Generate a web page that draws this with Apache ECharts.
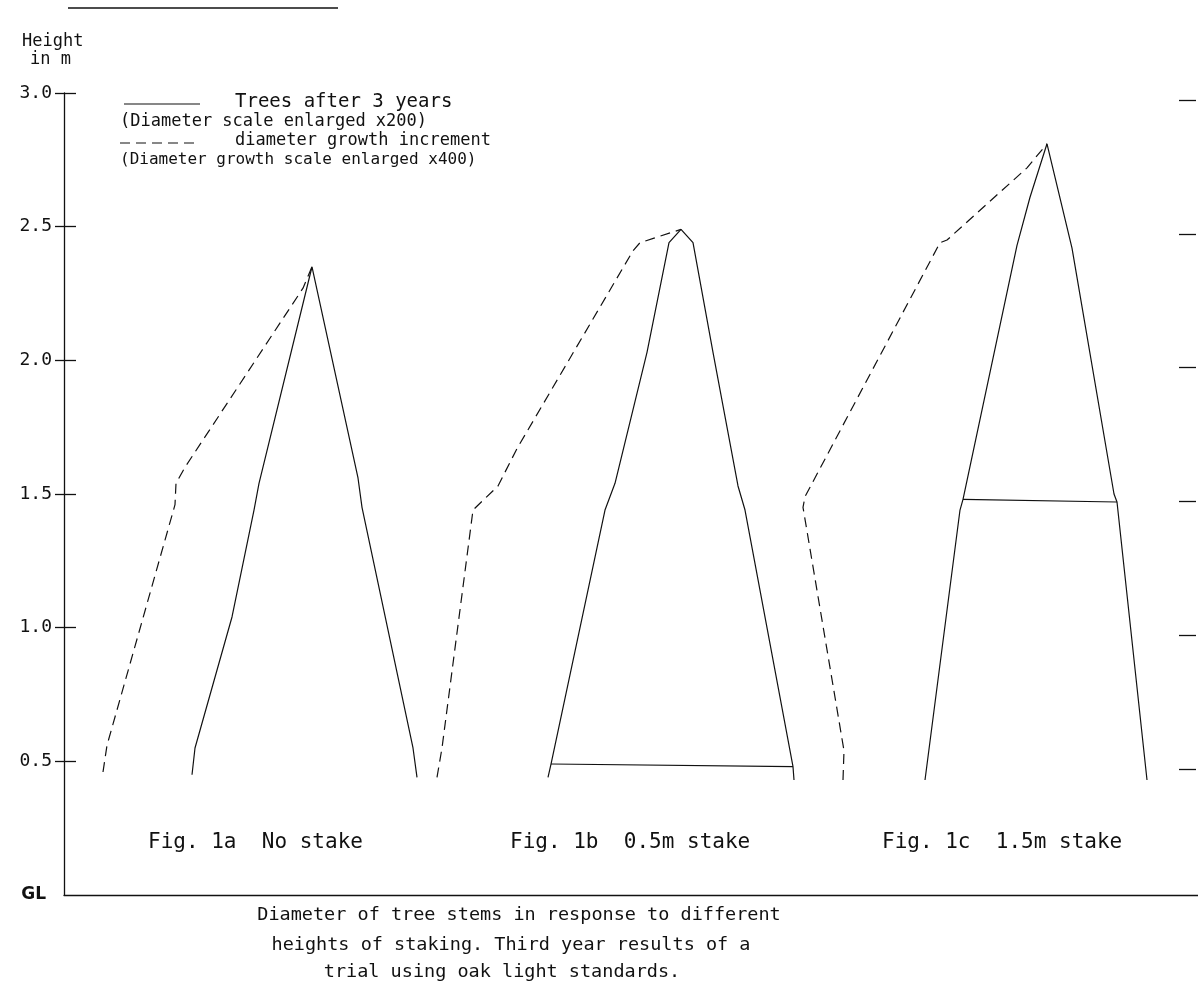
<!DOCTYPE html>
<html>
<head>
<meta charset="utf-8">
<title>Diameter of tree stems - staking trial</title>
<script src="https://cdn.jsdelivr.net/npm/echarts@6/dist/echarts.min.js"></script>
<style>
html, body { margin: 0; padding: 0; background: #fff; }
#chart { width: 1198px; height: 992px; }
</style>
</head>
<body>
<div id="chart"></div>
<script>
// height in m ; x = position across the drawing (scaled diameter)
var heightTicks = [0.5, 1.0, 1.5, 2.0, 2.5, 3.0];

// Fig 1a - no stake
var fig1aStem = [[128, 0.45], [131, 0.55], [168, 1.04], [190, 1.44], [195, 1.54], [248, 2.35],
  [294, 1.56], [298, 1.45], [349, 0.55], [353, 0.44]];
var fig1aGrowth = [[39, 0.46], [43, 0.56], [111, 1.46], [112, 1.54], [121, 1.60], [239, 2.27], [248, 2.35]];

// Fig 1b - 0.5m stake
var fig1bStem = [[484, 0.44], [487, 0.49], [541, 1.44], [551, 1.54], [583, 2.03], [605, 2.44], [617, 2.49],
  [629, 2.44], [649, 2.03], [674, 1.53], [681, 1.44], [729, 0.48], [730, 0.43]];
var fig1bStake = [[487, 0.49], [729, 0.48]];
var fig1bGrowth = [[373, 0.44], [378, 0.55], [409, 1.44], [434, 1.53], [453, 1.67], [569, 2.41], [576, 2.44], [617, 2.49]];

// Fig 1c - 1.5m stake
var fig1cStem = [[861, 0.43], [896, 1.44], [899, 1.48], [953, 2.43], [966, 2.61], [983, 2.81],
  [1008, 2.42], [1050, 1.50], [1053, 1.47], [1083, 0.43]];
var fig1cStake = [[899, 1.48], [1053, 1.47]];
var fig1cGrowth = [[779, 0.43], [780, 0.54], [739, 1.45], [741, 1.49], [876, 2.44], [883, 2.45], [963, 2.72], [983, 2.81]];

var figLabels = ["Fig. 1a  No stake", "Fig. 1b  0.5m stake", "Fig. 1c  1.5m stake"];
var captionLines = [
  "Diameter of tree stems in response to different",
  "heights of staking. Third year results of a",
  "trial using oak light standards."
];

var ink = "#111";
var txtFont = "'DejaVu Sans Mono', 'Liberation Mono', monospace";

function solid(name, data) {
  return { name: name, type: "line", data: data, symbol: "none", silent: true,
    lineStyle: { color: ink, width: 1.2 } };
}
function dashed(name, data) {
  return { name: name, type: "line", data: data, symbol: "none", silent: true,
    lineStyle: { color: ink, width: 1.2, type: [10, 6] } };
}
function txt(x, y, s, size, extra) {
  var st = { text: s, x: x, y: y, fill: ink, font: "normal " + size + "px " + txtFont, textVerticalAlign: "middle" };
  if (extra) for (var k in extra) st[k] = extra[k];
  return { type: "text", silent: true, style: st };
}

var option = {
  backgroundColor: "#fff",
  animation: false,
  grid: { left: 64, right: 0, top: 93, bottom: 97, containLabel: false },
  xAxis: {
    type: "value", min: 0, max: 1134,
    axisLine: { show: true, lineStyle: { color: ink, width: 1.3 } },
    axisTick: { show: false }, axisLabel: { show: false }, splitLine: { show: false }
  },
  yAxis: [
    {
      type: "value", min: 0, max: 3, interval: 0.5, position: "left",
      axisLine: { show: true, lineStyle: { color: ink, width: 1.3 } },
      axisTick: { show: true, length: 9, customValues: heightTicks, lineStyle: { color: ink, width: 1.3 } },
      axisLabel: {
        margin: 12, color: ink, fontSize: 18, fontFamily: txtFont,
        formatter: function (v) { return v === 0 ? "{gl|GL}" : v.toFixed(1); },
        rich: { gl: { fontWeight: "bold", fontSize: 17, fontFamily: "'DejaVu Sans', sans-serif", color: ink, padding: [0, 6, 0, 0] } }
      },
      splitLine: { show: false }
    },
    {
      type: "value", min: 0, max: 3, position: "left",
      axisLine: { show: false },
      axisTick: { show: true, inside: true, length: 12, customValues: heightTicks, lineStyle: { color: ink, width: 1.3 } },
      axisLabel: { show: false }, splitLine: { show: false }
    },
    {
      type: "value", min: 0.03, max: 3.026, position: "right", offset: -2,
      axisLine: { show: false },
      axisTick: { show: true, inside: true, length: 17, customValues: heightTicks, lineStyle: { color: ink, width: 1.3 } },
      axisLabel: { show: false }, splitLine: { show: false }
    }
  ],
  series: [
    solid("Trees after 3 years", fig1aStem),
    solid("Trees after 3 years", fig1bStem),
    solid("Trees after 3 years", fig1bStake),
    solid("Trees after 3 years", fig1cStem),
    solid("Trees after 3 years", fig1cStake),
    dashed("diameter growth increment", fig1aGrowth),
    dashed("diameter growth increment", fig1bGrowth),
    dashed("diameter growth increment", fig1cGrowth)
  ],
  graphic: [
    { type: "line", silent: true, shape: { x1: 68, y1: 8, x2: 338, y2: 8 }, style: { stroke: ink, lineWidth: 1.5 } },
    txt(22, 42, "Height", 17),
    txt(30, 60, "in m", 17),
    // legend
    { type: "line", silent: true, shape: { x1: 124, y1: 104, x2: 200, y2: 104 }, style: { stroke: ink, lineWidth: 1.2 } },
    txt(235, 102, "Trees after 3 years", 19),
    txt(120, 122, "(Diameter scale enlarged x200)", 17),
    { type: "line", silent: true, shape: { x1: 120, y1: 143, x2: 200, y2: 143 }, style: { stroke: ink, lineWidth: 1.2, lineDash: [10, 6] } },
    txt(235, 141, "diameter growth increment", 17),
    txt(120, 160, "(Diameter growth scale enlarged x400)", 16),
    // figure labels
    txt(148, 843, figLabels[0], 21),
    txt(510, 843, figLabels[1], 21),
    txt(882, 843, figLabels[2], 21),
    // caption
    txt(519, 915, captionLines[0], 18.5, { textAlign: "center" }),
    txt(511, 945, captionLines[1], 18.5, { textAlign: "center" }),
    txt(502, 972, captionLines[2], 18.5, { textAlign: "center" })
  ]
};

var myChart = echarts.init(document.getElementById("chart"));
myChart.setOption(option);
window.addEventListener("resize", function () { myChart.resize(); });
</script>
</body>
</html>
